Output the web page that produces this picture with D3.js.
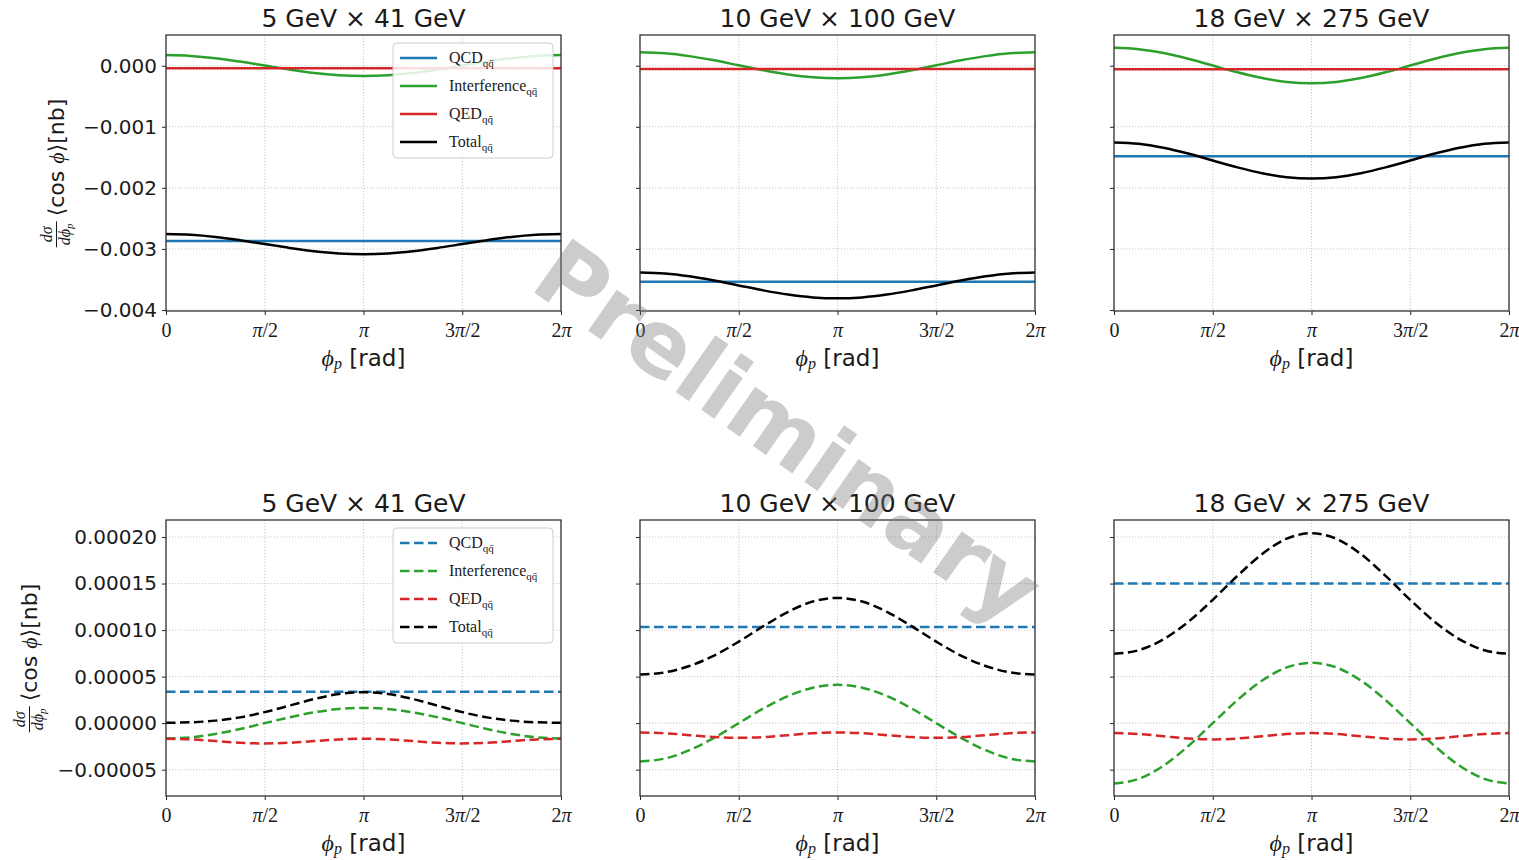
<!DOCTYPE html>
<html>
<head>
<meta charset="utf-8">
<script src="https://cdn.jsdelivr.net/npm/d3@7"></script>
<style>
body { margin: 0; background: #fff; }
text { font-family: "DejaVu Sans", sans-serif; fill: #1a1a1a; }
</style>
</head>
<body>
<svg id="chart" width="1519" height="860"></svg>
<script>
// ---- data ----
var beams = ['5 GeV × 41 GeV', '10 GeV × 100 GeV', '18 GeV × 275 GeV'];
var seriesNames = ['QCD', 'Interference', 'QED', 'Total'];
var seriesColors = ['#1f77b4', '#2ca02c', '#d62728', '#000000'];

// phi_p sample positions, in units of pi
var phiOverPi = [0, 0.125, 0.25, 0.375, 0.5, 0.625, 0.75, 0.875, 1, 1.125, 1.25, 1.375, 1.5, 1.625, 1.75, 1.875, 2];
var xTicks = [0, 0.5, 1, 1.5, 2];
var xTickLabels = ['0', 'π/2', 'π', '3π/2', '2π'];

var topTicks = [0, -0.001, -0.002, -0.003, -0.004];
var bottomTicks = [0.0002, 0.00015, 0.0001, 0.00005, 0, -0.00005];
var topDomain = [-0.004016, 0.000503];
var bottomDomain = [-0.0000783, 0.0002183];

// top row, 5 x 41
var qcdTop5 = [-0.00287, -0.00287, -0.00287, -0.00287, -0.00287, -0.00287, -0.00287, -0.00287, -0.00287, -0.00287, -0.00287, -0.00287, -0.00287, -0.00287, -0.00287, -0.00287, -0.00287];
var intTop5 = [0.000174, 0.000161, 0.000124, 0.000068, 0.000003, -0.000062, -0.000118, -0.000155, -0.000168, -0.000155, -0.000118, -0.000062, 0.000003, 0.000068, 0.000124, 0.000161, 0.000174];
var qedTop5 = [-0.00004, -0.00004, -0.00004, -0.00004, -0.00004, -0.00004, -0.00004, -0.00004, -0.00004, -0.00004, -0.00004, -0.00004, -0.00004, -0.00004, -0.00004, -0.00004, -0.00004];
var totTop5 = [-0.002755, -0.002768, -0.002803, -0.002857, -0.00292, -0.002983, -0.003037, -0.003073, -0.003085, -0.003073, -0.003037, -0.002983, -0.00292, -0.002857, -0.002803, -0.002768, -0.002755];

// top row, 10 x 100
var qcdTop10 = [-0.003538, -0.003538, -0.003538, -0.003538, -0.003538, -0.003538, -0.003538, -0.003538, -0.003538, -0.003538, -0.003538, -0.003538, -0.003538, -0.003538, -0.003538, -0.003538, -0.003538];
var intTop10 = [0.000219, 0.000203, 0.000157, 0.000088, 0.000007, -0.000074, -0.000143, -0.000189, -0.000205, -0.000189, -0.000143, -0.000074, 0.000007, 0.000088, 0.000157, 0.000203, 0.000219];
var qedTop10 = [-0.000054, -0.000054, -0.000054, -0.000054, -0.000054, -0.000054, -0.000054, -0.000054, -0.000054, -0.000054, -0.000054, -0.000054, -0.000054, -0.000054, -0.000054, -0.000054, -0.000054];
var totTop10 = [-0.003385, -0.003401, -0.003447, -0.003516, -0.003597, -0.003678, -0.003747, -0.003793, -0.003809, -0.003793, -0.003747, -0.003678, -0.003597, -0.003516, -0.003447, -0.003401, -0.003385];

// top row, 18 x 275
var qcdTop18 = [-0.001484, -0.001484, -0.001484, -0.001484, -0.001484, -0.001484, -0.001484, -0.001484, -0.001484, -0.001484, -0.001484, -0.001484, -0.001484, -0.001484, -0.001484, -0.001484, -0.001484];
var intTop18 = [0.000293, 0.000271, 0.000208, 0.000114, 0.000003, -0.000108, -0.000202, -0.000265, -0.000287, -0.000265, -0.000202, -0.000108, 0.000003, 0.000114, 0.000208, 0.000271, 0.000293];
var qedTop18 = [-0.000059, -0.000059, -0.000059, -0.000059, -0.000059, -0.000059, -0.000059, -0.000059, -0.000059, -0.000059, -0.000059, -0.000059, -0.000059, -0.000059, -0.000059, -0.000059, -0.000059];
var totTop18 = [-0.001256, -0.001278, -0.001343, -0.001438, -0.001552, -0.001665, -0.00176, -0.001825, -0.001847, -0.001825, -0.00176, -0.001665, -0.001552, -0.001438, -0.001343, -0.001278, -0.001256];

// bottom row, 5 x 41
var qcdBot5 = [0.0000336, 0.0000336, 0.0000336, 0.0000336, 0.0000336, 0.0000336, 0.0000336, 0.0000336, 0.0000336, 0.0000336, 0.0000336, 0.0000336, 0.0000336, 0.0000336, 0.0000336, 0.0000336, 0.0000336];
var intBot5 = [-0.0000164, -0.0000152, -0.0000116, -0.0000063, 0, 0.0000063, 0.0000116, 0.0000152, 0.0000164, 0.0000152, 0.0000116, 0.0000063, 0, -0.0000063, -0.0000116, -0.0000152, -0.0000164];
var qedBot5 = [-0.0000168, -0.0000175, -0.0000193, -0.0000211, -0.0000218, -0.0000211, -0.0000193, -0.0000175, -0.0000168, -0.0000175, -0.0000193, -0.0000211, -0.0000218, -0.0000211, -0.0000193, -0.0000175, -0.0000168];
var totBot5 = [0.0000004, 0.0000009, 0.0000027, 0.0000062, 0.0000118, 0.0000188, 0.0000259, 0.0000313, 0.0000332, 0.0000313, 0.0000259, 0.0000188, 0.0000118, 0.0000062, 0.0000027, 0.0000009, 0.0000004];

// bottom row, 10 x 100
var qcdBot10 = [0.0001034, 0.0001034, 0.0001034, 0.0001034, 0.0001034, 0.0001034, 0.0001034, 0.0001034, 0.0001034, 0.0001034, 0.0001034, 0.0001034, 0.0001034, 0.0001034, 0.0001034, 0.0001034, 0.0001034];
var intBot10 = [-0.0000412, -0.0000381, -0.0000291, -0.0000158, 0, 0.0000158, 0.0000291, 0.0000381, 0.0000412, 0.0000381, 0.0000291, 0.0000158, 0, -0.0000158, -0.0000291, -0.0000381, -0.0000412];
var qedBot10 = [-0.00001, -0.0000108, -0.0000129, -0.000015, -0.0000158, -0.000015, -0.0000129, -0.0000108, -0.00001, -0.0000108, -0.0000129, -0.000015, -0.0000158, -0.000015, -0.0000129, -0.0000108, -0.00001];
var totBot10 = [0.0000522, 0.0000545, 0.0000614, 0.0000726, 0.0000876, 0.0001042, 0.0001196, 0.0001307, 0.0001346, 0.0001307, 0.0001196, 0.0001042, 0.0000876, 0.0000726, 0.0000614, 0.0000545, 0.0000522];

// bottom row, 18 x 275
var qcdBot18 = [0.00015, 0.00015, 0.00015, 0.00015, 0.00015, 0.00015, 0.00015, 0.00015, 0.00015, 0.00015, 0.00015, 0.00015, 0.00015, 0.00015, 0.00015, 0.00015, 0.00015];
var intBot18 = [-0.0000648, -0.0000599, -0.0000458, -0.0000248, 0, 0.0000248, 0.0000458, 0.0000599, 0.0000648, 0.0000599, 0.0000458, 0.0000248, 0, -0.0000248, -0.0000458, -0.0000599, -0.0000648];
var qedBot18 = [-0.0000107, -0.0000117, -0.0000141, -0.0000165, -0.0000175, -0.0000165, -0.0000141, -0.0000117, -0.0000107, -0.0000117, -0.0000141, -0.0000165, -0.0000175, -0.0000165, -0.0000141, -0.0000117, -0.0000107];
var totBot18 = [0.0000745, 0.0000784, 0.0000901, 0.0001087, 0.0001325, 0.0001583, 0.0001817, 0.0001982, 0.0002041, 0.0001982, 0.0001817, 0.0001583, 0.0001325, 0.0001087, 0.0000901, 0.0000784, 0.0000745];

// ---- layout ----
var colLeft = [166, 640, 1114];
var rowTop = [35, 520];
var panelW = 395, panelH = 276;

var svg = d3.select('#chart');

var panels = [
	{ row: 0, col: 0, series: [qcdTop5, intTop5, qedTop5, totTop5] },
	{ row: 0, col: 1, series: [qcdTop10, intTop10, qedTop10, totTop10] },
	{ row: 0, col: 2, series: [qcdTop18, intTop18, qedTop18, totTop18] },
	{ row: 1, col: 0, series: [qcdBot5, intBot5, qedBot5, totBot5] },
	{ row: 1, col: 1, series: [qcdBot10, intBot10, qedBot10, totBot10] },
	{ row: 1, col: 2, series: [qcdBot18, intBot18, qedBot18, totBot18] }
];

panels.forEach(function (p) {
	drawPanel(p);
});

// watermark on top of everything
svg.append('text')
	.attr('transform', 'translate(788,432) rotate(35)')
	.attr('text-anchor', 'middle')
	.attr('dominant-baseline', 'central')
	.style('font-family', '"DejaVu Sans", sans-serif')
	.style('font-weight', 'bold')
	.style('font-size', '91px')
	.style('fill', '#7a7a7a')
	.style('fill-opacity', 0.38)
	.text('Preliminary');

function drawPanel(p) {
	var left = colLeft[p.col], top = rowTop[p.row];
	var isTop = p.row === 0;
	var ticks = isTop ? topTicks : bottomTicks;
	var fmt = d3.format(isTop ? '.3f' : '.5f');

	var x = d3.scaleLinear().domain([0, 2]).range([left, left + panelW]);
	var y = d3.scaleLinear().domain(isTop ? topDomain : bottomDomain).range([top + panelH, top]);

	var g = svg.append('g');

	// grid
	g.selectAll('.vgrid').data(xTicks).enter().append('line')
		.attr('x1', function (d) { return x(d); }).attr('x2', function (d) { return x(d); })
		.attr('y1', top).attr('y2', top + panelH)
		.attr('stroke', '#c4c4c4').attr('stroke-width', 0.9).attr('stroke-dasharray', '1.2,1.8');
	g.selectAll('.hgrid').data(ticks).enter().append('line')
		.attr('x1', left).attr('x2', left + panelW)
		.attr('y1', function (d) { return y(d); }).attr('y2', function (d) { return y(d); })
		.attr('stroke', '#c4c4c4').attr('stroke-width', 0.9).attr('stroke-dasharray', '1.2,1.8');

	// curves
	var line = d3.line()
		.x(function (d, i) { return x(phiOverPi[i]); })
		.y(function (d) { return y(d); })
		.curve(d3.curveMonotoneX);
	p.series.forEach(function (vals, si) {
		g.append('path')
			.attr('d', line(vals))
			.attr('fill', 'none')
			.attr('stroke', seriesColors[si])
			.attr('stroke-width', 2.5)
			.attr('stroke-dasharray', isTop ? null : '9.5,4.5');
	});

	// x axis
	var xAxis = g.append('g')
		.attr('transform', 'translate(0,' + (top + panelH) + ')')
		.call(d3.axisBottom(x).tickValues(xTicks).tickSize(4).tickPadding(8).tickFormat(''));
	xAxis.select('.domain').remove();
	xAxis.selectAll('line').attr('stroke', '#222');
	xAxis.selectAll('.tick text').each(function (d, i) {
		var t = d3.select(this)
			.attr('y', 26)
			.attr('dy', null)
			.style('font-family', '"Liberation Serif", serif')
			.style('font-size', '20px');
		var parts = xTickLabels[i].split('π');
		t.append('tspan').text(parts[0]);
		if (parts.length > 1) {
			t.append('tspan').style('font-style', 'italic').text('π');
			t.append('tspan').text(parts[1]);
		}
	});

	// y axis
	var yAxis = g.append('g')
		.attr('transform', 'translate(' + left + ',0)')
		.call(d3.axisLeft(y).tickValues(ticks).tickSize(4).tickPadding(5).tickFormat(p.col === 0 ? fmt : ''));
	yAxis.select('.domain').remove();
	yAxis.selectAll('line').attr('stroke', '#222');
	yAxis.selectAll('text')
		.style('font-family', '"DejaVu Sans", sans-serif')
		.style('font-size', '20px')
		.attr('fill', '#1a1a1a');

	// frame
	g.append('rect')
		.attr('x', left).attr('y', top).attr('width', panelW).attr('height', panelH)
		.attr('fill', 'none').attr('stroke', '#333').attr('stroke-width', 1.3);

	// title
	g.append('text')
		.attr('x', left + panelW / 2).attr('y', top - 8)
		.attr('text-anchor', 'middle')
		.style('font-size', '25px')
		.text(beams[p.col]);

	// x label
	var xl = g.append('text')
		.attr('x', left + panelW / 2).attr('y', top + panelH + 55)
		.attr('text-anchor', 'middle')
		.style('font-size', '23px');
	xl.append('tspan').style('font-family', '"Liberation Serif", serif').style('font-style', 'italic').style('font-size', '24px').text('ϕ');
	xl.append('tspan').style('font-family', '"Liberation Serif", serif').style('font-style', 'italic').style('font-size', '16px').attr('dy', 3).text('p');
	xl.append('tspan').attr('dy', -3).text(' [rad]');

	if (p.col === 0) {
		drawYLabel(isTop ? 64 : 37, top + panelH / 2);
		drawLegend(left, top, isTop);
	}
}

function drawYLabel(cx, cy) {
	var lab = svg.append('g').attr('transform', 'translate(' + cx + ',' + cy + ') rotate(-90)');
	var inner = lab.append('g');
	var serif = '"Liberation Serif", serif';
	inner.append('text')
		.attr('x', 13).attr('y', -12)
		.attr('text-anchor', 'middle')
		.style('font-family', serif).style('font-style', 'italic').style('font-size', '16px')
		.text('dσ');
	var den = inner.append('text')
		.attr('x', 13).attr('y', 6)
		.attr('text-anchor', 'middle')
		.style('font-family', serif).style('font-style', 'italic').style('font-size', '16px');
	den.append('tspan').text('dϕ');
	den.append('tspan').attr('dy', 3).style('font-size', '11px').text('p');
	inner.append('line')
		.attr('x1', 0).attr('x2', 26).attr('y1', -7.5).attr('y2', -7.5)
		.attr('stroke', '#1a1a1a').attr('stroke-width', 1);
	var main = inner.append('text').attr('x', 31).attr('y', 0).style('font-size', '22px');
	main.append('tspan').text('⟨cos ');
	main.append('tspan').style('font-family', serif).style('font-style', 'italic').text('ϕ');
	main.append('tspan').text('⟩[nb]');
	var total = 31 + main.node().getComputedTextLength();
	inner.attr('transform', 'translate(' + (-total / 2) + ',0)');
}

function drawLegend(left, top, solid) {
	var lg = svg.append('g').attr('transform', 'translate(' + (left + 227) + ',' + (top + 8) + ')');
	lg.append('rect')
		.attr('width', 160).attr('height', 115).attr('rx', 4)
		.attr('fill', '#fff').attr('fill-opacity', 0.85)
		.attr('stroke', '#cccccc').attr('stroke-width', 1);
	seriesNames.forEach(function (name, i) {
		var cy = 15 + i * 28;
		lg.append('line')
			.attr('x1', 7).attr('x2', 44).attr('y1', cy).attr('y2', cy)
			.attr('stroke', seriesColors[i]).attr('stroke-width', 2.5)
			.attr('stroke-dasharray', solid ? null : '9.5,4.5');
		var t = lg.append('text')
			.attr('x', 56).attr('y', cy + 5)
			.style('font-family', '"Liberation Serif", serif')
			.style('font-size', '16px')
			.attr('fill', '#333');
		t.append('tspan').text(name);
		t.append('tspan').attr('dy', 4).style('font-size', '11px').text('qq̄');
	});
}
</script>
</body>
</html>
